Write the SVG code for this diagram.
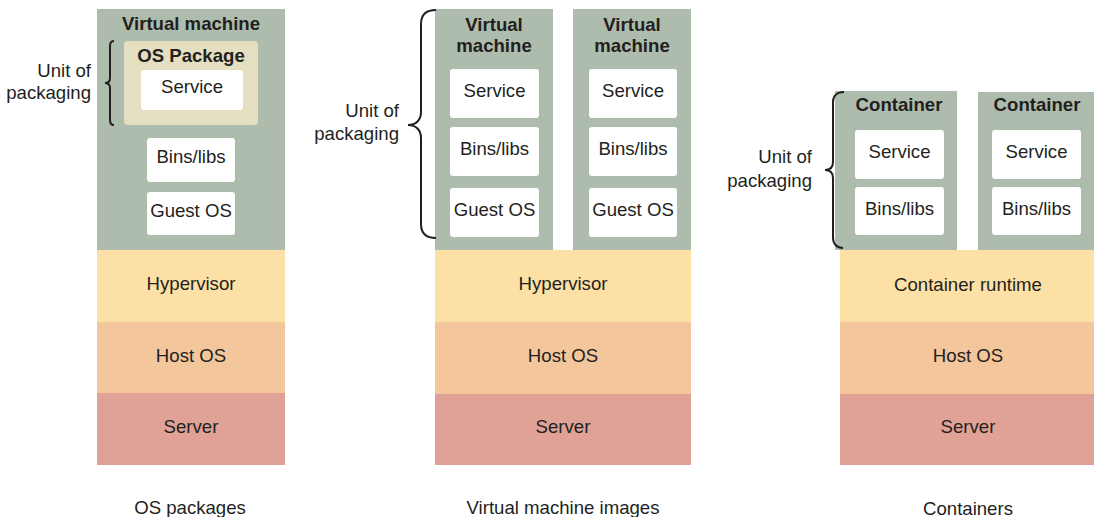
<svg xmlns="http://www.w3.org/2000/svg" width="1094" height="517" viewBox="0 0 1094 517">
<style>
.t{font-family:"Liberation Sans",Arial,sans-serif;font-size:18.6px;fill:#231f20;text-anchor:middle}
.b{font-weight:bold}
.r{text-anchor:end}
.vm{fill:#adbcac}
.box{fill:#ffffff}
.hyp{fill:#fde0a6}
.host{fill:#f4c69c}
.srv{fill:#e0a196}
.pkg{fill:#e3dfc0}
.brace{fill:none;stroke:#231f20;stroke-width:2}
</style>
<rect width="1094" height="517" fill="#ffffff"/>

<!-- Column 1: OS packages -->
<g id="col1-vm">
<rect class="vm" x="97" y="9" width="188" height="241"/>
<text class="t b" x="191" y="30">Virtual machine</text>
</g>
<g id="col1-ospackage">
<rect class="pkg" x="124" y="41" width="134" height="84" rx="4"/>
<text class="t b" x="191" y="62">OS Package</text>
</g>
<g id="col1-service">
<rect class="box" x="141" y="70" width="102" height="40" rx="3"/>
<text class="t" x="192" y="93">Service</text>
</g>
<g id="col1-bins">
<rect class="box" x="147" y="138" width="88" height="44" rx="3"/>
<text class="t" x="191" y="163">Bins/libs</text>
</g>
<g id="col1-guestos">
<rect class="box" x="147" y="192" width="88" height="43" rx="3"/>
<text class="t" x="191" y="217">Guest OS</text>
</g>
<g id="col1-hypervisor">
<rect class="hyp" x="97" y="250" width="188" height="72"/>
<text class="t" x="191" y="290">Hypervisor</text>
</g>
<g id="col1-hostos">
<rect class="host" x="97" y="322" width="188" height="71"/>
<text class="t" x="191" y="362">Host OS</text>
</g>
<g id="col1-server">
<rect class="srv" x="97" y="393" width="188" height="72"/>
<text class="t" x="191" y="433">Server</text>
</g>
<g id="col1-unit">
<text class="t r" x="91" y="77">Unit of</text>
<text class="t r" x="91" y="99">packaging</text>
</g>
<text class="t" x="190" y="514">OS packages</text>

<!-- Column 2: Virtual machine images -->
<g id="col2-vm1">
<rect class="vm" x="435" y="9" width="118" height="241"/>
<text class="t b" x="494" y="31">Virtual</text>
<text class="t b" x="494" y="52">machine</text>
</g>
<g id="col2-vm1-service">
<rect class="box" x="450" y="69" width="89" height="49" rx="3"/>
<text class="t" x="494.5" y="97">Service</text>
</g>
<g id="col2-vm1-bins">
<rect class="box" x="450" y="127" width="89" height="49" rx="3"/>
<text class="t" x="494.5" y="155">Bins/libs</text>
</g>
<g id="col2-vm1-guestos">
<rect class="box" x="450" y="188" width="89" height="49" rx="3"/>
<text class="t" x="494.5" y="216">Guest OS</text>
</g>
<g id="col2-vm2">
<rect class="vm" x="573" y="9" width="118" height="241"/>
<text class="t b" x="632" y="31">Virtual</text>
<text class="t b" x="632" y="52">machine</text>
</g>
<g id="col2-vm2-service">
<rect class="box" x="589" y="69" width="88" height="49" rx="3"/>
<text class="t" x="633" y="97">Service</text>
</g>
<g id="col2-vm2-bins">
<rect class="box" x="589" y="127" width="88" height="49" rx="3"/>
<text class="t" x="633" y="155">Bins/libs</text>
</g>
<g id="col2-vm2-guestos">
<rect class="box" x="589" y="188" width="88" height="49" rx="3"/>
<text class="t" x="633" y="216">Guest OS</text>
</g>
<g id="col2-hypervisor">
<rect class="hyp" x="435" y="250" width="256" height="72"/>
<text class="t" x="563" y="290">Hypervisor</text>
</g>
<g id="col2-hostos">
<rect class="host" x="435" y="322" width="256" height="72"/>
<text class="t" x="563" y="362">Host OS</text>
</g>
<g id="col2-server">
<rect class="srv" x="435" y="394" width="256" height="71"/>
<text class="t" x="563" y="433">Server</text>
</g>
<g id="col2-unit">
<text class="t r" x="399" y="117">Unit of</text>
<text class="t r" x="399" y="140">packaging</text>
</g>
<text class="t" x="563" y="514">Virtual machine images</text>

<!-- Column 3: Containers -->
<g id="col3-c1">
<rect class="vm" x="835" y="91" width="122" height="159"/>
<text class="t b" x="899" y="111">Container</text>
</g>
<g id="col3-c1-service">
<rect class="box" x="855" y="130" width="89" height="49" rx="3"/>
<text class="t" x="899.5" y="158">Service</text>
</g>
<g id="col3-c1-bins">
<rect class="box" x="855" y="187" width="89" height="48" rx="3"/>
<text class="t" x="899.5" y="215">Bins/libs</text>
</g>
<g id="col3-c2">
<rect class="vm" x="978" y="92" width="116" height="158"/>
<text class="t b" x="1037" y="111">Container</text>
</g>
<g id="col3-c2-service">
<rect class="box" x="992" y="130" width="89" height="49" rx="3"/>
<text class="t" x="1036.5" y="158">Service</text>
</g>
<g id="col3-c2-bins">
<rect class="box" x="992" y="187" width="89" height="48" rx="3"/>
<text class="t" x="1036.5" y="215">Bins/libs</text>
</g>
<g id="col3-runtime">
<rect class="hyp" x="840" y="250" width="254" height="72"/>
<text class="t" x="968" y="291">Container runtime</text>
</g>
<g id="col3-hostos">
<rect class="host" x="840" y="322" width="254" height="72"/>
<text class="t" x="968" y="362">Host OS</text>
</g>
<g id="col3-server">
<rect class="srv" x="840" y="394" width="254" height="71"/>
<text class="t" x="968" y="433">Server</text>
</g>
<g id="col3-unit">
<text class="t r" x="812" y="163">Unit of</text>
<text class="t r" x="812" y="187">packaging</text>
</g>
<text class="t" x="968" y="515">Containers</text>

<!-- Braces -->
<g id="connectors">
<path class="brace" d="M114 41 C111 41 110 43 110 46 L110 78 C110 81 108 83 105 83 C108 83 110 85 110 88 L110 120 C110 123 111 125 114 125"/>
<path class="brace" d="M436 10 C425 10 421 15 421 24 L421 112 C421 120 416 125 408 125 C416 125 421 130 421 138 L421 224 C421 233 425 238 436 238"/>
<path class="brace" d="M844 92 C837 92 833 96 833 102 L833 162 C833 167 830 170 825 170 C830 170 833 173 833 178 L833 238 C833 244 837 248 843 248"/>
</g>
</svg>
